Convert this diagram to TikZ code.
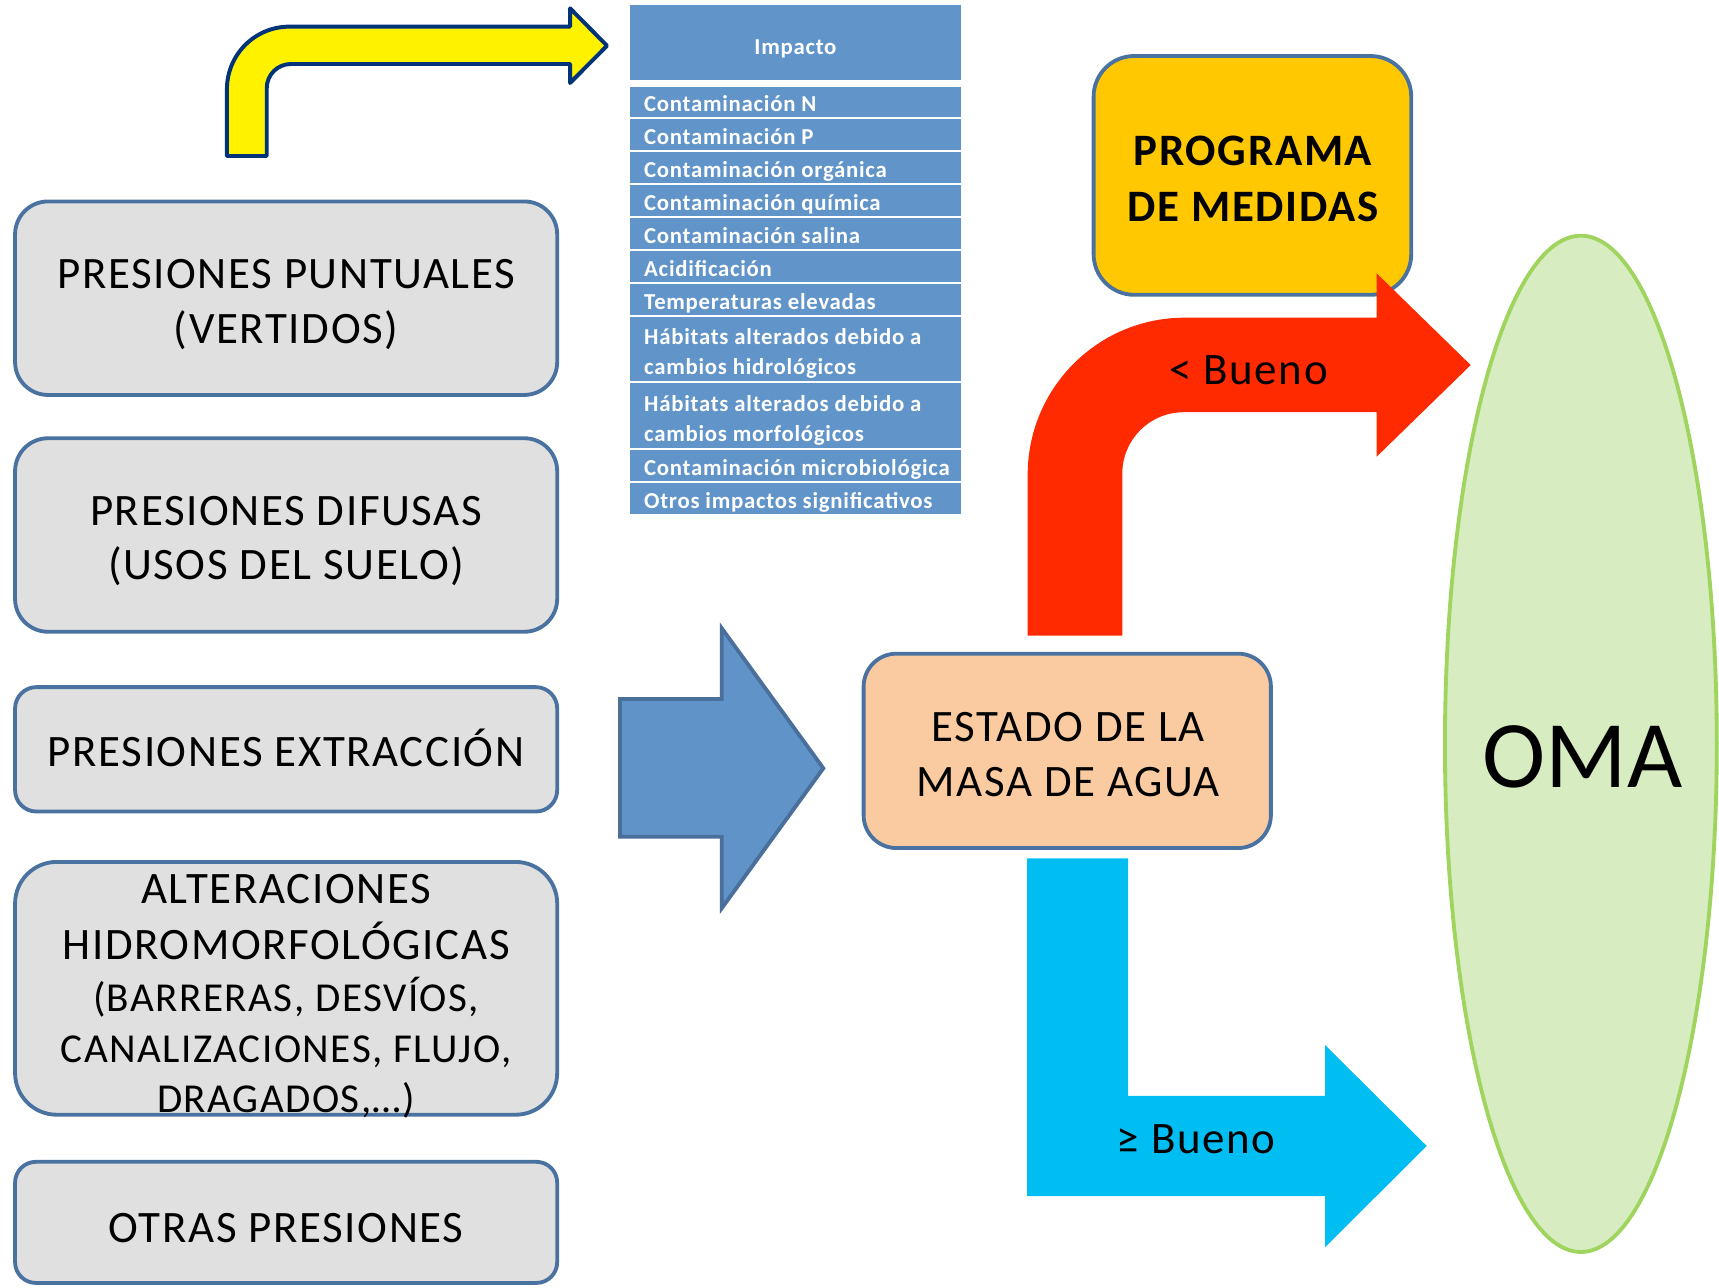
\documentclass[tikz,border=0pt]{standalone}
\usepackage{fontspec}
\setmainfont{Carlito}
\newfontfamily\widefont[LetterSpace=3.6]{Carlito}
\newfontfamily\tblfont[LetterSpace=3.2]{Carlito}
\definecolor{boxline}{HTML}{4A72A0}
\definecolor{boxgray}{HTML}{E0E0E0}
\definecolor{tblue}{HTML}{6194C9}
\definecolor{bigblue}{HTML}{6094C8}
\definecolor{bigblueline}{HTML}{4A6F9B}
\definecolor{peach}{HTML}{FACBA0}
\definecolor{gold}{HTML}{FFC800}
\definecolor{redarrow}{HTML}{FF2A00}
\definecolor{cyanarrow}{HTML}{00BEF2}
\definecolor{omafill}{HTML}{D7ECC0}
\definecolor{omaline}{HTML}{9FD45F}
\definecolor{navy}{HTML}{003377}
\begin{document}
\begin{tikzpicture}[x=1pt,y=-1pt,
  pbox/.style={draw=boxline, line width=3.5pt, fill=boxgray, inner sep=0pt},
  bigtxt/.style={font=\widefont\fontsize{41}{50}\selectfont, anchor=base, inner sep=0pt},
  midtxt/.style={font=\widefont\fontsize{37.5}{46}\selectfont, anchor=base, inner sep=0pt},
  rowbox/.style={fill=tblue, inner sep=0pt, anchor=north west, minimum width=301.9pt},
  rowtxt/.style={font=\tblfont\fontsize{20.8}{24}\selectfont\bfseries, text=white, anchor=base west, inner sep=0pt}]
\useasboundingbox (0,0) rectangle (1568,1174);

% ---------- yellow bent arrow ----------
\draw[fill=yellow, draw=navy, line width=3.6pt, line join=round]
  (207,142.3) -- (207,81.3) .. controls (207,49.8) and (232.5,24.3) .. (264,24.3)
  -- (520,24.3) -- (520,7.6) -- (553.7,41.7) -- (520,75.7) -- (520,58.4)
  -- (265.3,58.4) .. controls (253.15,58.4) and (243.3,68.25) .. (243.3,80.4)
  -- (243.3,142.3) -- cycle;

% ---------- impact table ----------
\node[rowbox, minimum height=68.4pt] (imp) at (574.7,4.6) {};
\node[font=\tblfont\fontsize{20.8}{24}\selectfont\bfseries, text=white, anchor=base, inner sep=0pt] (impt) at (725.6,50) {Impacto};

\node[rowbox, minimum height=27.8pt] (r1) at (574.7,78.9) {};
\node[rowbox, minimum height=28.5pt] (r2) at (574.7,108.3) {};
\node[rowbox, minimum height=28.5pt] (r3) at (574.7,138.4) {};
\node[rowbox, minimum height=28.5pt] (r4) at (574.7,168.5) {};
\node[rowbox, minimum height=28.5pt] (r5) at (574.7,198.6) {};
\node[rowbox, minimum height=28.5pt] (r6) at (574.7,228.7) {};
\node[rowbox, minimum height=28.5pt] (r7) at (574.7,258.8) {};
\node[rowbox, minimum height=58.6pt] (r8) at (574.7,288.9) {};
\node[rowbox, minimum height=59.5pt] (r9) at (574.7,349.1) {};
\node[rowbox, minimum height=28.6pt] (r10) at (574.7,410.2) {};
\node[rowbox, minimum height=28.5pt] (r11) at (574.7,440.4) {};

\node[rowtxt] (t1) at (587.4,101.7) {Contaminación N};
\node[rowtxt] (t2) at (587.4,131.8) {Contaminación P};
\node[rowtxt] (t3) at (587.4,161.9) {Contaminación orgánica};
\node[rowtxt] (t4) at (587.4,192.0) {Contaminación química};
\node[rowtxt] (t5) at (587.4,222.1) {Contaminación salina};
\node[rowtxt] (t6) at (587.4,252.2) {Acidificación};
\node[rowtxt] (t7) at (587.4,282.3) {Temperaturas elevadas};
\node[rowtxt] (t8a) at (587.4,314.5) {Hábitats alterados debido a};
\node[rowtxt] (t8b) at (587.4,342.0) {cambios hidrológicos};
\node[rowtxt] (t9a) at (587.4,375.6) {Hábitats alterados debido a};
\node[rowtxt] (t9b) at (587.4,403.1) {cambios morfológicos};
\node[rowtxt] (t10) at (587.4,433.8) {Contaminación microbiológica};
\node[rowtxt] (t11) at (587.4,463.9) {Otros impactos significativos};

% ---------- pressure boxes ----------
\node[pbox, rounded corners=30pt, minimum width=494.5pt, minimum height=176.5pt] (p1) at (261,272) {};
\node[bigtxt] (p1a) at (261,263) {PRESIONES PUNTUALES};
\node[bigtxt] (p1b) at (261,313) {(VERTIDOS)};

\node[pbox, rounded corners=30pt, minimum width=494.5pt, minimum height=176.5pt] (p2) at (261,488) {};
\node[bigtxt] (p2a) at (261,479) {PRESIONES DIFUSAS};
\node[bigtxt] (p2b) at (261,529) {(USOS DEL SUELO)};

\node[pbox, rounded corners=19.5pt, minimum width=494.5pt, minimum height=113.5pt] (p3) at (261,683.5) {};
\node[bigtxt] (p3a) at (261,699) {PRESIONES EXTRACCIÓN};

\node[pbox, rounded corners=38pt, minimum width=494.5pt, minimum height=230.6pt] (p4) at (261,901.5) {};
\node[bigtxt] (p4a) at (261,824) {ALTERACIONES};
\node[bigtxt] (p4b) at (261,875) {HIDROMORFOLÓGICAS};
\node[midtxt] (p4c) at (261,922.8) {(BARRERAS, DESVÍOS,};
\node[midtxt] (p4d) at (261,969.3) {CANALIZACIONES, FLUJO,};
\node[midtxt] (p4e) at (261,1015) {DRAGADOS,…)};

\node[pbox, rounded corners=19pt, minimum width=494.5pt, minimum height=110.5pt] (p5) at (261,1115) {};
\node[bigtxt] (p5a) at (261,1133) {OTRAS PRESIONES};

% ---------- big blue arrow ----------
\draw[fill=bigblue, draw=bigblueline, line width=3.5pt]
  (565.5,637.6) -- (658.3,637.6) -- (658.3,573) -- (751,700.8)
  -- (658.3,828.5) -- (658.3,763.2) -- (565.5,763.2) -- cycle;

% ---------- OMA ellipse ----------
\draw[fill=omafill, draw=omaline, line width=3.5pt] (1442,678.5) ellipse [x radius=124, y radius=463.5];
\node[font=\fontsize{87}{100}\selectfont, anchor=base, inner sep=0pt] (oma) at (1443.5,718) {OMA};

% ---------- estado ----------
\node[pbox, fill=peach, rounded corners=30pt, minimum width=371.5pt, minimum height=177.3pt] (est) at (973.5,684.9) {};
\node[bigtxt] (esta) at (974.5,676) {ESTADO DE LA};
\node[bigtxt] (estb) at (974.5,726.7) {MASA DE AGUA};

% ---------- programa ----------
\node[pbox, fill=gold, rounded corners=37pt, minimum width=289.7pt, minimum height=217.8pt] (prog) at (1142.4,160) {};
\node[bigtxt, font=\widefont\fontsize{41}{50}\selectfont\bfseries] (proga) at (1143,151.4) {PROGRAMA};
\node[bigtxt, font=\widefont\fontsize{41}{50}\selectfont\bfseries] (progb) at (1143,201.6) {DE MEDIDAS};

% ---------- red bent arrow ----------
\fill[redarrow, line join=round]
  (937.4,579.8) -- (937.4,433) .. controls (937.4,354) and (1001.4,289.8) .. (1080.4,289.8)
  -- (1255.7,289.8) -- (1255.7,249.3) -- (1341.5,333) -- (1255.7,416.6) -- (1255.7,376)
  -- (1079.7,376) .. controls (1048.8,376) and (1023.7,400.9) .. (1023.7,432)
  -- (1023.7,579.8) -- cycle;
\node[bigtxt] (lt) at (1139,351) {< Bueno};

% ---------- cyan arrow ----------
\fill[cyanarrow]
  (937,783) -- (1029,783) -- (1029,999.7) -- (1208.6,999.7) -- (1208.6,953.2)
  -- (1301.4,1045.3) -- (1208.6,1137.7) -- (1208.6,1091) -- (937,1091) -- cycle;
\node[bigtxt] (ge) at (1091,1052.6) {≥ Bueno};
\end{tikzpicture}
\end{document}
